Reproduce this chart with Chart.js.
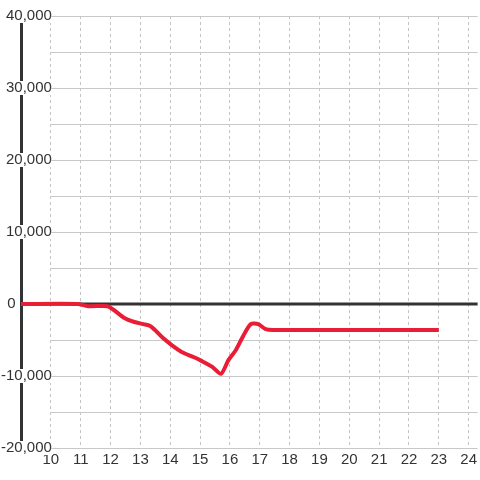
<!DOCTYPE html>
<html>
<head>
<meta charset="utf-8">
<script src="https://cdn.jsdelivr.net/npm/chart.js@4"></script>
<style>
    body { margin: 0; background: #fff; }
    canvas { display: block; }
</style>
</head>
<body>
<canvas id="diffChart" width="480" height="480"></canvas>
<script>
// time of day (hours) and difference in balls
const HOURS = [9, 10.9, 11.25, 11.9, 12.1, 12.45, 12.8, 13.1, 13.35, 13.75, 14.05, 14.4, 14.8, 15.05, 15.4, 15.7, 15.95, 16.2, 16.45, 16.7, 16.95, 17.2, 17.45, 23];
const DIFFS = [0, 0, -300, -300, -800, -1900, -2500, -2800, -3100, -4700, -5700, -6700, -7400, -7900, -8700, -9700, -7800, -6400, -4400, -2800, -2800, -3500, -3600, -3600];

const X_MIN = 9;
const X_MAX = 24.3;
const FIRST_HOUR_LABEL = 10;
const Y_MIN = -20000;
const Y_MAX = 40000;
const Y_LABEL_STEP = 10000;
const Y_GRID_STEP = 5000;

Chart.defaults.font.family = '"Liberation Sans", Arial, sans-serif';

var points = [];
for (let i = 0; i < HOURS.length; i++) {
    points.push({
        x: HOURS[i],
        y: DIFFS[i]
    });
}

// horizontal grid starts at the first labelled hour; zero line spans the whole area
const hGrid = {
    id: "hGrid",
    beforeDatasetsDraw: function (chart) {
        const ctx = chart.ctx;
        const area = chart.chartArea;
        const x = chart.scales.x;
        const y = chart.scales.y;
        const left = x.getPixelForValue(FIRST_HOUR_LABEL);
        ctx.save();
        ctx.strokeStyle = "#c8c8c8";
        ctx.lineWidth = 1;
        for (let v = Y_MIN; v <= Y_MAX; v += Y_GRID_STEP) {
            if (v === 0) {
                continue
            }
            const py = Math.round(y.getPixelForValue(v)) + 0.5;
            ctx.beginPath();
            ctx.moveTo(left, py);
            ctx.lineTo(area.right, py);
            ctx.stroke();
        }
        const zy = y.getPixelForValue(0);
        ctx.strokeStyle = "#333";
        ctx.lineWidth = 3;
        ctx.beginPath();
        ctx.moveTo(area.left, zy);
        ctx.lineTo(area.right, zy);
        ctx.stroke();
        ctx.restore();
    }
};

window.onload = function () {
    var ctx = document.getElementById("diffChart").getContext("2d");
    new Chart(ctx, {
        type: "line",
        data: {
            datasets: [{
                data: points,
                borderColor: "#e91e36",
                borderWidth: 4,
                pointRadius: 0,
                fill: false,
                tension: 0.25,
            }],
        },
        options: {
            responsive: false,
            animation: false,
            layout: {
                padding: { left: 0, top: 16, right: 0, bottom: 8 }
            },
            plugins: {
                legend: { display: false },
                tooltip: { enabled: false }
            },
            scales: {
                x: {
                    type: "linear",
                    min: X_MIN,
                    max: X_MAX,
                    grid: {
                        color: "#c4c4c4",
                        lineWidth: 1,
                        drawTicks: false
                    },
                    border: {
                        display: false,
                        dash: [3, 3]
                    },
                    ticks: {
                        stepSize: 1,
                        includeBounds: false,
                        autoSkip: false,
                        maxRotation: 0,
                        padding: 3,
                        color: "#333",
                        font: { size: 15 },
                        callback: function (v) {
                            if (v < FIRST_HOUR_LABEL || v % 1 !== 0) {
                                return null
                            }
                            return String(v)
                        }
                    }
                },
                y: {
                    min: Y_MIN,
                    max: Y_MAX,
                    afterFit: function (scale) {
                        scale.width = 21;
                    },
                    grid: {
                        display: false,
                        drawTicks: false
                    },
                    border: {
                        display: true,
                        color: "#333",
                        width: 3
                    },
                    ticks: {
                        stepSize: Y_LABEL_STEP,
                        mirror: true,
                        crossAlign: "far",
                        padding: -20,
                        color: "#333",
                        font: { size: 15 },
                        showLabelBackdrop: true,
                        backdropColor: function (c) {
                            return c.tick && c.tick.value === 0 ? "rgba(0,0,0,0)" : "#fff";
                        },
                        backdropPadding: { top: -2, bottom: -2, left: 1, right: 1 },
                        callback: function (v) {
                            // the zero label sits left of the axis line
                            if (v === 0) {
                                return "0" + " ".repeat(8) + "\u2009"
                            }
                            return v.toLocaleString("en-US")
                        }
                    }
                }
            }
        },
        plugins: [hGrid]
    });
};
</script>
</body>
</html>
